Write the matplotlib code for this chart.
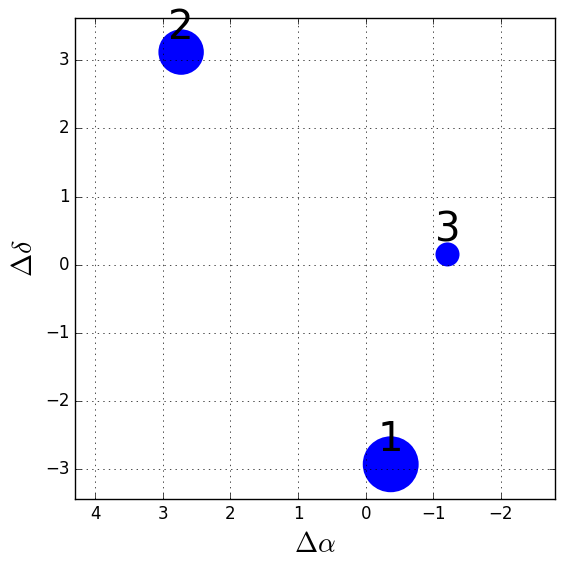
import matplotlib
matplotlib.use("Agg")
import matplotlib.pyplot as plt

plt.style.use("classic")

# offsets of the three components
labels = ["1", "2", "3"]
d_alpha = [-0.37, 2.73, -1.21]
d_delta = [-2.93, 3.12, 0.15]
sizes = [1620, 1070, 300]

fig = plt.figure(figsize=(5.65, 5.67), dpi=100, facecolor="white")
ax = fig.add_axes([0.1327, 0.1199, 0.8496, 0.8483])

ax.scatter(d_alpha, d_delta, s=sizes, c="b", linewidths=0)
for lab, x, y in zip(labels, d_alpha, d_delta):
    ax.annotate(lab, (x, y), xytext=(0, 3), textcoords="offset points",
                ha="center", va="bottom", fontsize=29)

ax.set_xlim(4.3, -2.8)
ax.set_ylim(-3.44, 3.62)
ax.set_xticks([4, 3, 2, 1, 0, -1, -2])
ax.set_yticks([-3, -2, -1, 0, 1, 2, 3])
ax.grid(True)
ax.set_xlabel(r"$\Delta\alpha$", fontsize=20)
ax.set_ylabel(r"$\Delta\delta$", fontsize=20)

fig.savefig("out.png", dpi=100, facecolor="white")
